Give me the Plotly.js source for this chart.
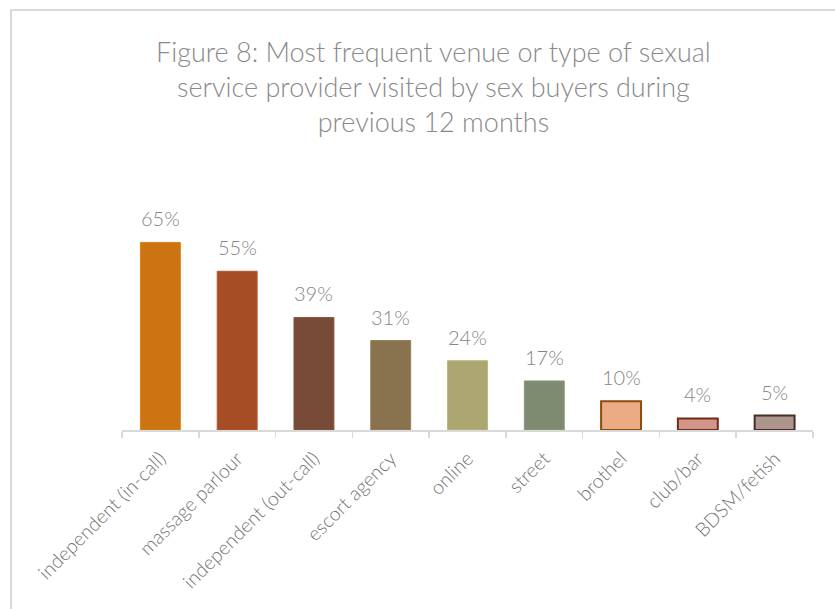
<!DOCTYPE html>
<html>
<head>
<meta charset="utf-8">
<script src="https://cdn.plot.ly/plotly-3.0.1.min.js"></script>
<style>
  html, body { margin: 0; padding: 0; background: #fff; overflow: hidden; }
  #frame { position: absolute; left: 10px; top: 9px; width: 900px; height: 700px;
           border: 2px solid #d9d9d9; box-sizing: border-box; }
  #chart { position: absolute; left: 0; top: 0; width: 835px; height: 609px; }
</style>
</head>
<body>
<div id="frame"></div>
<div id="chart"></div>
<script>
const categories = ["independent (in-call)", "massage parlour", "independent (out-call)",
  "escort agency", "online", "street", "brothel", "club/bar", "BDSM/fetish"];
const values = [65, 55, 39, 31, 24, 17, 10, 4, 5];
const titleText = "Figure 8: Most frequent venue or type of sexual<br>service provider visited by sex buyers during<br>previous 12 months";

const fillColors = ["#CC7411", "#A64D25", "#774B37", "#89734E", "#ACA770", "#7E8B71", "#EBAB84", "#D3958A", "#AB958D"];
const lineColors = ["#DD8019", "#B5562D", "#86573F", "#978058", "#BDB77B", "#8B987E", "#8E4B0E", "#6E2D1B", "#4B2D22"];
const lineWidths = [1, 1, 1, 1, 1, 1, 2, 2, 2];

const FONT = "Lato, 'Open Sans', sans-serif";

const trace = {
  type: "bar",
  x: categories,
  y: values,
  marker: { color: fillColors, line: { color: lineColors, width: lineWidths } },
  width: 0.52,
  hoverinfo: "skip"
};

const annotations = categories.map((c, i) => ({
  x: c, y: values[i], xref: "x", yref: "y",
  text: values[i] + "%", showarrow: false,
  yanchor: "bottom", yshift: 10,
  font: { family: FONT, size: 20, color: "#858585", weight: 300 }
}));

annotations.push({
  text: titleText, showarrow: false,
  xref: "paper", yref: "paper",
  x: 0.4515, xanchor: "center",
  y: 1.699, yanchor: "middle",
  align: "center",
  font: { family: FONT, size: 27, color: "#8a8a8a", weight: 300 }
});

const layout = {
  width: 835, height: 609,
  margin: { l: 122, r: 22, t: 227.5, b: 179 },
  paper_bgcolor: "rgba(0,0,0,0)",
  plot_bgcolor: "rgba(0,0,0,0)",
  showlegend: false,
  xaxis: {
    type: "category",
    showline: true, linecolor: "#d9d9d9", linewidth: 1.5,
    ticks: "outside", ticklen: 6, tickcolor: "#d9d9d9", tickwidth: 1.5,
    tickson: "boundaries",
    tickangle: -45,
    ticklabelstandoff: 8,
    tickfont: { family: FONT, size: 19.5, color: "#737373", weight: 300 },
    showgrid: false, zeroline: false
  },
  yaxis: { range: [0, 70], visible: false, showgrid: false, zeroline: false },
  annotations: annotations
};

Plotly.newPlot("chart", [trace], layout, { displayModeBar: false, staticPlot: true });
</script>
</body>
</html>
